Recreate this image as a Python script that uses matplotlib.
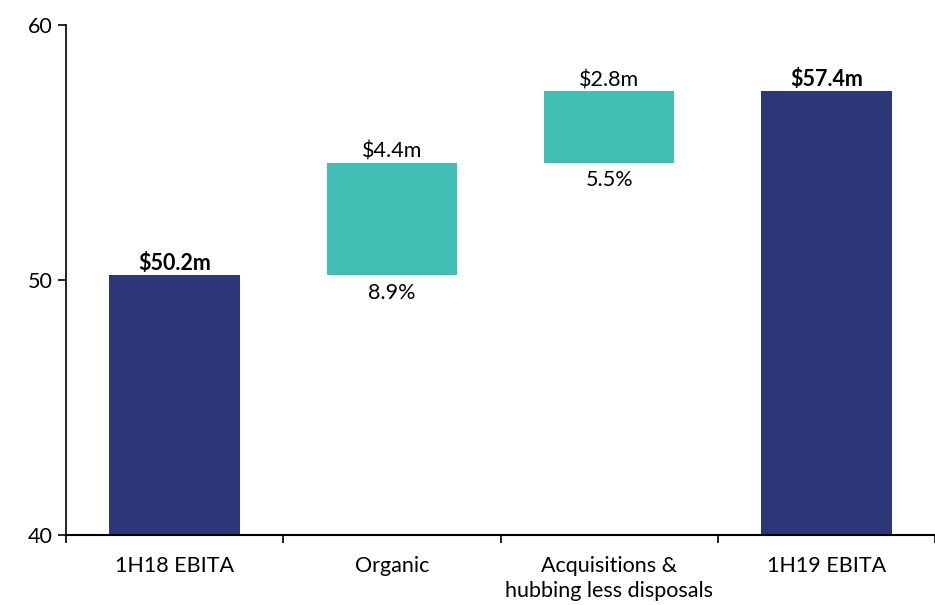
import numpy as np
import matplotlib.pyplot as plt

plt.rcParams['font.family'] = ['Lato', 'DejaVu Sans']

categories = ["1H18 EBITA", "Organic", "Acquisitions &\nhubbing less disposals", "1H19 EBITA"]
bottoms = [40, 50.2, 54.6, 40]
tops = [50.2, 54.6, 57.4, 57.4]
top_labels = ["$50.2m", "$4.4m", "$2.8m", "$57.4m"]
bottom_labels = [None, "8.9%", "5.5%", None]
is_total = [True, False, False, True]

navy = "#2B3779"
teal = "#42BFB5"

fig = plt.figure(figsize=(9.35, 6.05), dpi=100)
ax = fig.add_axes([66/935, 1 - 535/605, 1 - 66/935, 510/605])

x = np.arange(len(categories))
heights = np.array(tops) - np.array(bottoms)
colors = [navy if t else teal for t in is_total]
ax.bar(x, heights, bottom=bottoms, width=0.6, color=colors)

for i in range(len(categories)):
    ax.text(x[i], tops[i] + 0.05, top_labels[i], ha="center", va="bottom",
            fontsize=15.5, fontweight="bold" if is_total[i] else "normal")
    if bottom_labels[i]:
        ax.text(x[i], bottoms[i] - 0.3, bottom_labels[i], ha="center", va="top", fontsize=15.5)

ax.set_ylim(40, 60)
ax.set_yticks([40, 50, 60])
ax.set_xlim(-0.5, -0.5 + 869/221)
ax.set_xticks(x)
ax.set_xticklabels(categories, fontsize=15.5, linespacing=1.3)
ax.set_xticks(np.arange(-0.5, 3.6, 1), minor=True)
ax.tick_params(axis="x", which="major", length=0, pad=15)
ax.tick_params(axis="x", which="minor", length=6, width=1.2)
ax.tick_params(axis="y", labelsize=15.5, length=6, width=1.2)

for s in ["top", "right"]:
    ax.spines[s].set_visible(False)
ax.spines["left"].set_linewidth(1.2)
ax.spines["bottom"].set_linewidth(1.5)

fig.savefig("out.png", dpi=100)
